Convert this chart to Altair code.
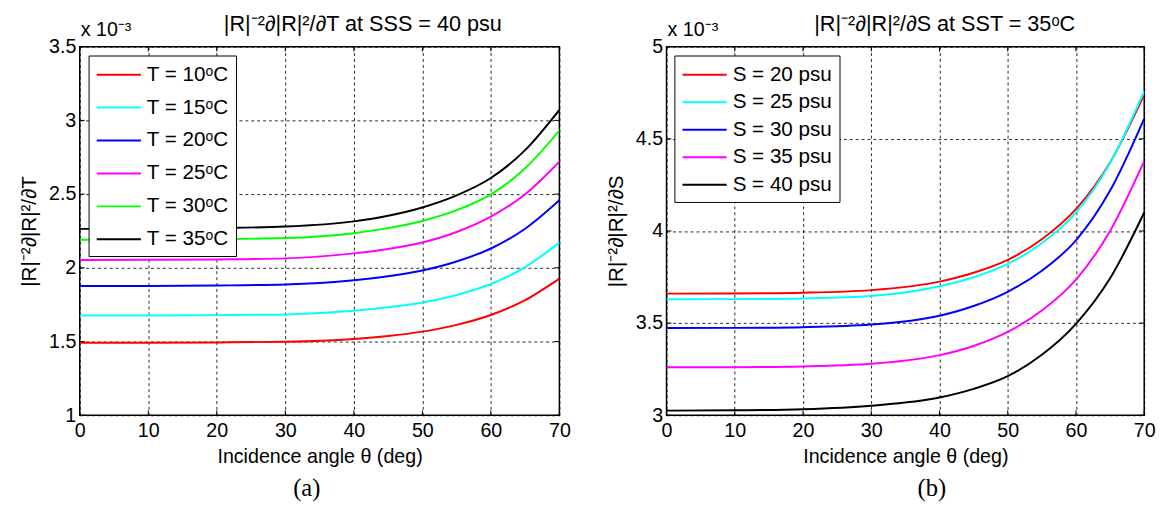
import altair as alt
import pandas as pd

angles = [0, 10, 20, 30, 40, 45, 50, 55, 60, 65, 70]

t_labels = ["T = 10ᵒC", "T = 15ᵒC", "T = 20ᵒC", "T = 25ᵒC", "T = 30ᵒC", "T = 35ᵒC"]
t_colors = ["#ff0000", "#00ffff", "#0000ff", "#ff00ff", "#00ff00", "#000000"]
t10 = [1.491, 1.492, 1.494, 1.498, 1.517, 1.537, 1.567, 1.613, 1.680, 1.781, 1.927]
t15 = [1.676, 1.677, 1.679, 1.684, 1.709, 1.732, 1.765, 1.816, 1.890, 2.005, 2.171]
t20 = [1.876, 1.877, 1.880, 1.887, 1.916, 1.943, 1.982, 2.043, 2.131, 2.265, 2.458]
t25 = [2.053, 2.054, 2.057, 2.064, 2.098, 2.128, 2.172, 2.243, 2.347, 2.499, 2.720]
t30 = [2.191, 2.192, 2.195, 2.202, 2.235, 2.269, 2.318, 2.391, 2.498, 2.675, 2.931]
t35 = [2.264, 2.265, 2.270, 2.280, 2.315, 2.353, 2.409, 2.491, 2.609, 2.798, 3.071]

s_labels = ["S = 20 psu", "S = 25 psu", "S = 30 psu", "S = 35 psu", "S = 40 psu"]
s_colors = ["#ff0000", "#00ffff", "#0000ff", "#ff00ff", "#000000"]
s20 = [3.660, 3.661, 3.665, 3.679, 3.725, 3.773, 3.843, 3.955, 4.118, 4.372, 4.740]
s25 = [3.629, 3.630, 3.634, 3.647, 3.700, 3.749, 3.821, 3.935, 4.100, 4.369, 4.758]
s30 = [3.473, 3.474, 3.478, 3.492, 3.540, 3.593, 3.670, 3.784, 3.949, 4.219, 4.610]
s35 = [3.260, 3.261, 3.265, 3.279, 3.326, 3.376, 3.452, 3.568, 3.736, 4.000, 4.380]
s40 = [3.025, 3.027, 3.033, 3.052, 3.096, 3.143, 3.212, 3.328, 3.496, 3.743, 4.100]

x_ticks = [0, 10, 20, 30, 40, 50, 60, 70]
t_yticks = [1, 1.5, 2, 2.5, 3, 3.5]
s_yticks = [3, 3.5, 4, 4.5, 5]

FONT = "Liberation Sans"


def long_df(labels, series):
    rows = []
    for lab, vals in zip(labels, series):
        for a, v in zip(angles, vals):
            rows.append({"angle": a, "val": v, "series": lab})
    return pd.DataFrame(rows)


def panel(df, labels, colors, ydom, yticks, ytitle, title, sub, w, h,
          lx, ly, row_pad, sub_x, title_dx):
    xs = alt.Scale(domain=[0, 70], nice=False, zero=False)
    ys = alt.Scale(domain=ydom, nice=False, zero=False)
    common = dict(grid=True, gridDash=[3, 3], gridColor="#000000",
                  gridOpacity=0.85, gridWidth=1,
                  labelFont=FONT, labelFontSize=20, labelColor="#000000",
                  titleFont=FONT, titleFontWeight="normal",
                  titleColor="#000000", domain=False, ticks=False,
                  labelFlush=False)
    x_axis = alt.Axis(values=x_ticks, title="Incidence angle θ (deg)",
                      format="d", titlePadding=6, labelPadding=6,
                      titleFontSize=20, **common)
    y_axis = alt.Axis(values=yticks, title=ytitle, format="~g",
                      titlePadding=9, labelPadding=4, titleFontSize=21,
                      **common)
    X = lambda f: alt.X(f, scale=xs, axis=x_axis)
    Y = lambda f: alt.Y(f, scale=ys, axis=y_axis)
    lines = alt.Chart(df).mark_line(strokeWidth=2, clip=True,
                                    interpolate="monotone").encode(
        x=X("angle:Q"),
        y=Y("val:Q"),
        color=alt.Color(
            "series:N",
            scale=alt.Scale(domain=labels, range=colors),
            sort=labels,
            legend=alt.Legend(
                title=None, orient="none", legendX=lx, legendY=ly,
                symbolType="M-2,0H2", symbolSize=506, symbolStrokeWidth=2,
                symbolOffset=11.25,
                labelFont=FONT, labelFontSize=21, labelColor="#000000",
                strokeColor="#000000", fillColor="#ffffff", padding=7,
                rowPadding=row_pad, labelOffset=16,
            ),
        ),
        detail="series:N",
    )
    xt = pd.DataFrame({"angle": x_ticks})
    yt = pd.DataFrame({"val": yticks})
    rule = dict(color="#000000", strokeWidth=1)
    tick_b = alt.Chart(xt).mark_rule(**rule).encode(
        x=X("angle:Q"), y=alt.value(h - 5), y2=alt.value(h))
    tick_t = alt.Chart(xt).mark_rule(**rule).encode(
        x=X("angle:Q"), y=alt.value(0), y2=alt.value(5))
    tick_l = alt.Chart(yt).mark_rule(**rule).encode(
        y=Y("val:Q"), x=alt.value(0), x2=alt.value(5))
    tick_r = alt.Chart(yt).mark_rule(**rule).encode(
        y=Y("val:Q"), x=alt.value(w - 5), x2=alt.value(w))
    txt = pd.DataFrame({"m": ["x 10⁻³"], "s": [sub], "t": [title]})
    mult = alt.Chart(txt).mark_text(
        align="left", baseline="alphabetic", font=FONT, fontSize=20,
        color="#000000").encode(x=alt.value(1), y=alt.value(-11), text="m:N")
    ttl = alt.Chart(txt).mark_text(
        align="center", baseline="alphabetic", font=FONT, fontSize=22,
        color="#000000").encode(x=alt.value(w / 2 + title_dx),
                                y=alt.value(-16), text="t:N")
    subl = alt.Chart(txt).mark_text(
        align="center", baseline="middle", font="Liberation Serif",
        fontSize=25, color="#000000").encode(
        x=alt.value(sub_x), y=alt.value(h + 74), text="s:N")
    return alt.layer(lines, tick_b, tick_t, tick_l, tick_r, mult, ttl,
                     subl).properties(width=w, height=h)


left = panel(long_df(t_labels, [t10, t15, t20, t25, t30, t35]), t_labels,
             t_colors, [1, 3.5], t_yticks, "|R|⁻²∂|R|²/∂T",
             "|R|⁻²∂|R|²/∂T at SSS = 40 psu", "(a)", 488, 375,
             9, 9, 10.5, 231, 44)
right = panel(long_df(s_labels, [s20, s25, s30, s35, s40]), s_labels,
              s_colors, [3, 5], s_yticks, "|R|⁻²∂|R|²/∂S",
              "|R|⁻²∂|R|²/∂S at SST = 35ᵒC", "(b)", 486, 375,
              8, 9, 5, 270, 40)

chart = alt.hconcat(left, right, spacing=34).resolve_scale(
    color="independent").properties(
    padding={"left": 10, "top": 0, "right": 0, "bottom": 0}
).configure_view(stroke="#000000", strokeWidth=1.5)

chart.save("out.html", embed_options={"renderer": "svg", "actions": False})
